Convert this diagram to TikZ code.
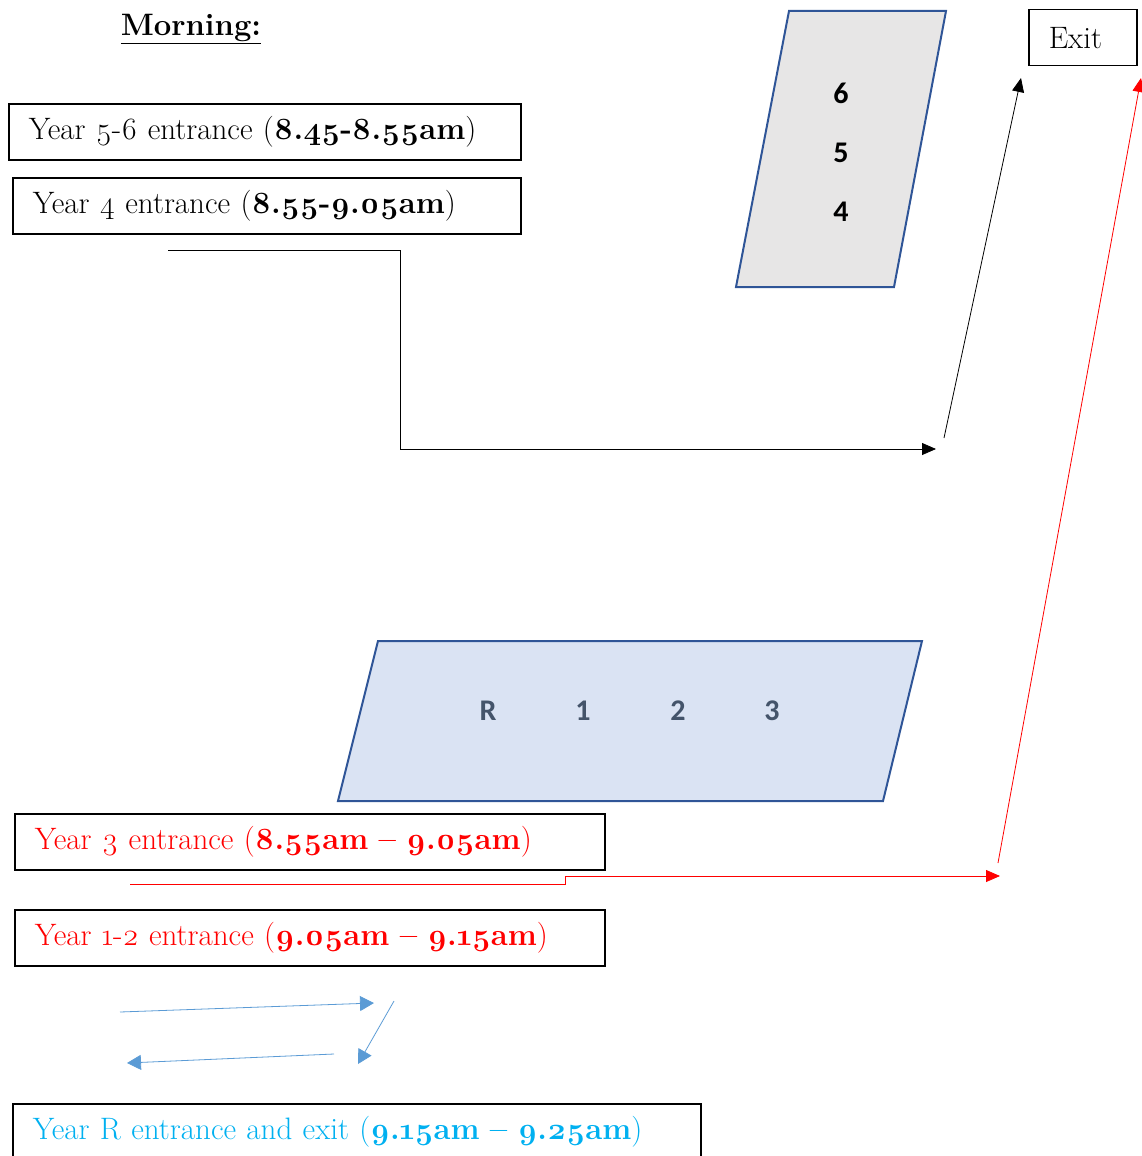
\documentclass[tikz,border=0pt]{standalone}
\usepackage{fontspec}
\setmainfont{Latin Modern Roman}[Numbers=OldStyle]
\newfontfamily\calib{Carlito}
\usetikzlibrary{arrows.meta}
\definecolor{shapeblue}{HTML}{2F5597}
\definecolor{grayfill}{HTML}{E7E6E6}
\definecolor{bluefill}{HTML}{DAE3F3}
\definecolor{slate}{HTML}{44546A}
\definecolor{arrblue}{HTML}{5B9BD5}
\definecolor{cyantext}{HTML}{00B0F0}
\definecolor{redtext}{HTML}{FF0000}
\begin{document}
\begin{tikzpicture}[x=1pt,y=-1pt,
  box/.style={draw=black, line width=1.5pt, anchor=north west, inner xsep=20pt, inner ysep=0pt, minimum height=56pt, align=left, font=\fontsize{31}{34}\selectfont},
  room/.style={draw=shapeblue, line width=2pt, line join=miter},
  num/.style={font=\calib\bfseries\fontsize{30}{32}\selectfont},
  conn/.style={line width=0.8pt},
  tip/.style={-{Triangle[length=14pt,width=12pt]}},
  btip/.style={-{Triangle[length=14pt,width=15pt]}}
]
\useasboundingbox (0,0) rectangle (1141,1156);

% title
\node[font=\fontsize{31}{34}\selectfont\bfseries, anchor=base] (title) at (191,36) {\underline{Morning:}};

% entrance boxes
\node[box, text width=472pt] (y56) at (8,103) {Year 5-6 entrance (\textbf{8.45-8.55am})};
\node[box, text width=468pt] (y4) at (12,177) {Year 4 entrance (\textbf{8.55-9.05am})};
\node[box, text width=550pt, text=redtext] (y3) at (14,813) {Year 3 entrance (\textbf{8.55am – 9.05am})};
\node[box, text width=550pt, text=redtext] (y12) at (14,909) {Year 1-2 entrance (\textbf{9.05am – 9.15am})};
\node[box, text width=648pt, text=cyantext] (yR) at (12,1103) {Year R entrance and exit (\textbf{9.15am – 9.25am})};
\node[box, inner xsep=20pt, text width=68pt] (exit) at (1028,9) {Exit};

% year 4-6 block
\filldraw[room, fill=grayfill] (789,11) -- (946,11) -- (894,287) -- (736,287) -- cycle;
\node[num, text=black] (n6) at (841,93) {6};
\node[num, text=black] (n5) at (841,153) {5};
\node[num, text=black] (n4) at (841,212) {4};

% year R-3 block
\filldraw[room, fill=bluefill] (378,641) -- (922,641) -- (883,801) -- (338,801) -- cycle;
\node[num, text=slate] (nR) at (488,711) {R};
\node[num, text=slate] (n1) at (583,711) {1};
\node[num, text=slate] (n2) at (678,711) {2};
\node[num, text=slate] (n3) at (772,711) {3};

% black route
\coordinate (bk0) at (168,250);
\coordinate (bk1) at (936,449);
\coordinate (bk2) at (944,438);
\coordinate (bk3) at (1021,78);
\draw[conn, tip] (bk0) -- (400,250) -- (400,449) -- (bk1);
\draw[conn, tip] (bk2) -- (bk3);

% red route
\coordinate (rd0) at (130,884);
\coordinate (rd1) at (1000,876);
\coordinate (rd2) at (998,863);
\coordinate (rd3) at (1141,78);
\draw[conn, draw=redtext, tip] (rd0) -- (565,884) -- (565,876) -- (rd1);
\draw[conn, draw=redtext, tip] (rd2) -- (rd3);

% blue route
\coordinate (bl0) at (120,1012);
\coordinate (bl1) at (374,1003);
\coordinate (bl2) at (394,1001);
\coordinate (bl3) at (358,1064);
\coordinate (bl4) at (334,1054);
\coordinate (bl5) at (127,1063);
\draw[conn, draw=arrblue, btip] (bl0) -- (bl1);
\draw[conn, draw=arrblue, btip] (bl2) -- (bl3);
\draw[conn, draw=arrblue, btip] (bl4) -- (bl5);
\end{tikzpicture}
\end{document}
